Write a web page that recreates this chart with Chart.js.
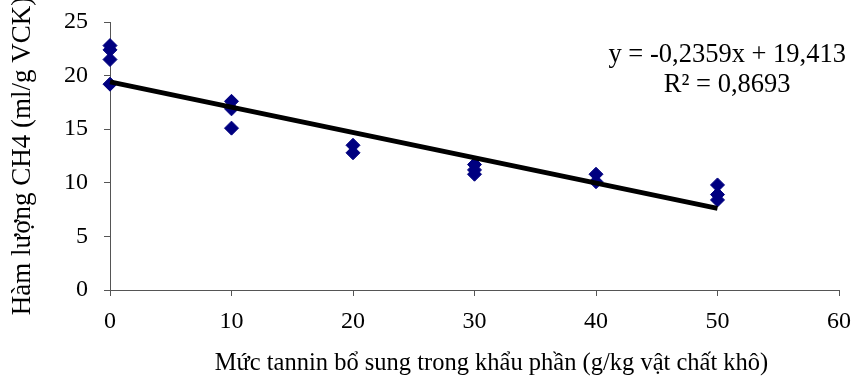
<!DOCTYPE html>
<html>
<head>
<meta charset="utf-8">
<script src="https://cdn.jsdelivr.net/npm/chart.js@4"></script>
<style>
  body { margin: 0; background: #fff; }
  #wrap { width: 851px; height: 380px; }
</style>
</head>
<body>
<div id="wrap"><canvas id="mychart" width="851" height="380"></canvas></div>
<script>
// muc tannin (g/kg VCK) va ham luong CH4 doc tu hinh
const tanninLevels = [0, 0, 0, 0, 10, 10, 10, 20, 20, 30, 30, 30, 40, 40, 50, 50, 50];
const ch4Values = [22.8, 22.4, 21.5, 19.2, 17.6, 16.9, 15.1, 13.5, 12.8, 11.7, 11.2, 10.8, 10.8, 10.1, 9.8, 8.9, 8.4];

// duong hoi quy
const trendSlope = -0.2359;
const trendIntercept = 19.413;
const trendRange = [0, 50];
const equationLines = ['y = -0,2359x + 19,413', 'R² = 0,8693'];

const xTicks = [0, 10, 20, 30, 40, 50, 60];
const yTicks = [0, 5, 10, 15, 20, 25];
const xTitle = 'Mức tannin bổ sung trong khẩu phần (g/kg vật chất khô)';

const serif = "'Liberation Serif', 'Times New Roman', serif";

const points = tanninLevels.map((x, i) => ({ x: x, y: ch4Values[i] }));
const trend = trendRange.map(x => ({ x: x, y: trendIntercept + trendSlope * x }));

// ve phuong trinh va tieu de truc x (hoi lech sang phai so voi truc)
const textPlugin = {
    id: 'extraText',
    afterDatasetsDraw(chart) {
        const ctx = chart.ctx;
        const xs = chart.scales.x;
        const ys = chart.scales.y;
        ctx.save();
        ctx.fillStyle = '#000';
        ctx.textAlign = 'center';
        ctx.textBaseline = 'middle';
        ctx.font = '26.5px ' + serif;
        const cx = xs.getPixelForValue(50.8);
        ctx.fillText(equationLines[0], cx, ys.getPixelForValue(21.9));
        ctx.fillText(equationLines[1], cx, ys.getPixelForValue(19.1));

        ctx.font = '24.5px ' + serif;
        ctx.fillText(xTitle, xs.getPixelForValue(31.4), xs.bottom - 16);
        ctx.restore();
    }
};

const ctx = document.getElementById('mychart');
new Chart(ctx, {
    type: 'scatter',
    data: {
        datasets: [{
            type: 'line',
            data: trend,
            borderColor: '#000',
            borderWidth: 5,
            pointRadius: 0,
            fill: false,
            clip: false,
            order: 0
        }, {
            data: points,
            pointStyle: 'rectRot',
            pointRadius: 7,
            backgroundColor: '#000080',
            borderColor: '#000080',
            borderWidth: 1,
            clip: false,
            order: 1
        }]
    },
    options: {
        responsive: false,
        animation: false,
        layout: { padding: { top: 22, right: 12, left: 0, bottom: 0 } },
        plugins: {
            legend: { display: false },
            tooltip: { enabled: false }
        },
        scales: {
            x: {
                type: 'linear',
                min: 0,
                max: 60,
                afterBuildTicks(scale) { scale.ticks = xTicks.map(v => ({ value: v })); },
                afterFit(scale) {
                    scale.height = 90;
                    scale.paddingRight = 0;
                    scale.paddingLeft = 0;
                },
                border: { color: '#555', width: 1 },
                grid: { drawOnChartArea: false, drawTicks: true, tickLength: 6, color: '#555' },
                ticks: { color: '#000', font: { family: serif, size: 24 }, padding: 11, maxRotation: 0 }
            },
            y: {
                min: 0,
                max: 25,
                afterBuildTicks(scale) { scale.ticks = yTicks.map(v => ({ value: v })); },
                afterFit(scale) {
                    scale.width = 110;
                    scale.paddingTop = 0;
                    scale.paddingBottom = 0;
                },
                border: { color: '#555', width: 1 },
                grid: { drawOnChartArea: false, drawTicks: true, tickLength: 6, color: '#555' },
                ticks: { color: '#000', font: { family: serif, size: 24 }, padding: 16 },
                title: {
                    display: true,
                    text: 'Hàm lượng CH4 (ml/g VCK)',
                    color: '#000',
                    font: { family: serif, size: 27 },
                    padding: { top: 7, bottom: 0 }
                }
            }
        }
    },
    plugins: [textPlugin]
});
</script>
</body>
</html>
